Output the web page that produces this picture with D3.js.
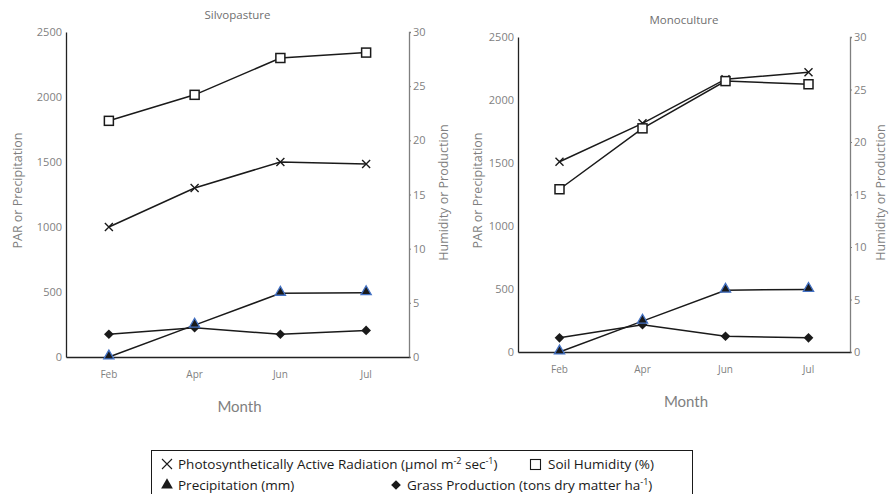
<!DOCTYPE html>
<html>
<head>
<meta charset="utf-8">
<script src="https://cdn.jsdelivr.net/npm/d3@7"></script>
<style>
  body { margin: 0; background: #fff; }
  svg { font-family: "Open Sans", Lato, sans-serif; }
</style>
</head>
<body>
<svg id="chart" width="889" height="494"></svg>
<script>
// months on the x axis
var months = ["Feb", "Apr", "Jun", "Jul"];
var leftTicks = [0, 500, 1000, 1500, 2000, 2500];
var rightTicks = [0, 5, 10, 15, 20, 25, 30];

// silvopasture
var silvoPAR = [1000, 1300, 1500, 1485];
var silvoHumidity = [21.8, 24.2, 27.6, 28.1];
var silvoPrecip = [0, 245, 490, 495];
var silvoGrass = [2.1, 2.7, 2.1, 2.45];

// monoculture
var monoPAR = [1510, 1815, 2165, 2220];
var monoHumidity = [15.5, 21.3, 25.8, 25.5];
var monoPrecip = [0, 245, 490, 497];
var monoGrass = [1.35, 2.6, 1.5, 1.35];

var svg = d3.select('#chart');
var grey = '#7f7f7f';
var font = '"Open Sans", sans-serif';

function drawPanel(p) {
  var x = d3.scaleBand().domain(months).range([p.x0, p.x1]);
  var yL = d3.scaleLinear().domain([0, 2500]).range([p.y1, p.y0]);
  var yR = d3.scaleLinear().domain([0, 30]).range([p.y1, p.y0]);
  var cx = function(d, i) { return x(months[i]) + x.bandwidth() / 2; };
  var g = svg.append('g');

  // title
  g.append('text').attr('x', (p.x0 + p.x1) / 2).attr('y', p.y0 - 13)
    .attr('text-anchor', 'middle').attr('font-size', '11.5px').attr('fill', '#6f6f6f')
    .text(p.title);

  // left axis
  var ax = g.append('g').attr('transform', 'translate(' + p.x0 + ',0)')
    .call(d3.axisLeft(yL).tickValues(leftTicks).tickFormat(d3.format('d')).tickSize(0).tickPadding(4));
  ax.select('.domain').attr('stroke', '#222').attr('stroke-width', 1.3);
  ax.selectAll('text').attr('fill', grey).attr('font-size', '11px').attr('font-family', font);

  // right axis
  var ar = g.append('g').attr('transform', 'translate(' + p.x1 + ',0)')
    .call(d3.axisRight(yR).tickValues(rightTicks).tickSize(2).tickSizeOuter(2).tickPadding(2));
  ar.select('.domain').attr('stroke', grey).attr('stroke-width', 1.3);
  ar.selectAll('line').attr('stroke', grey);
  ar.selectAll('text').attr('fill', grey).attr('font-size', '11px').attr('font-family', font);

  // bottom axis
  var ab = g.append('g').attr('transform', 'translate(0,' + p.y1 + ')')
    .call(d3.axisBottom(x).tickSize(0).tickPadding(14));
  ab.select('.domain').attr('stroke', '#222').attr('stroke-width', 1.3);
  ab.selectAll('text').attr('fill', grey).attr('font-size', '10px').attr('font-family', font);

  // axis titles
  g.append('text').attr('x', (p.x0 + p.x1) / 2 + 2).attr('y', p.y1 + 55)
    .attr('text-anchor', 'middle').attr('font-family', 'Lato, sans-serif')
    .attr('font-size', '15px').attr('fill', grey).text('Month');
  g.append('text').attr('transform', 'translate(' + p.lx + ',' + ((p.y0 + p.y1) / 2 - 4) + ') rotate(-90)')
    .attr('text-anchor', 'middle').attr('font-size', '12.5px').attr('fill', grey).text('PAR or Precipitation');
  g.append('text').attr('transform', 'translate(' + p.rx + ',' + ((p.y0 + p.y1) / 2 - 2) + ') rotate(-90)')
    .attr('text-anchor', 'middle').attr('font-size', '12.5px').attr('fill', grey).text('Humidity or Production');

  function line(vals, y) {
    g.append('path').datum(vals)
      .attr('d', d3.line().x(cx).y(function(d) { return y(d); }))
      .attr('fill', 'none').attr('stroke', '#1a1a1a').attr('stroke-width', 1.5);
  }
  line(p.par, yL);
  line(p.humidity, yR);
  line(p.grass, yR);
  line(p.precip, yL);

  // PAR crosses
  g.append('g').selectAll('path').data(p.par).enter().append('path')
    .attr('d', 'M-4,-4L4,4M-4,4L4,-4')
    .attr('transform', function(d, i) { return 'translate(' + cx(d, i) + ',' + yL(d) + ')'; })
    .attr('stroke', '#1a1a1a').attr('stroke-width', 1.4);
  // humidity squares
  g.append('g').selectAll('rect').data(p.humidity).enter().append('rect')
    .attr('x', function(d, i) { return cx(d, i) - 4.5; })
    .attr('y', function(d) { return yR(d) - 4.5; })
    .attr('width', 9).attr('height', 9)
    .attr('fill', '#fff').attr('stroke', '#1a1a1a').attr('stroke-width', 1.5);
  // grass diamonds
  g.append('g').selectAll('path').data(p.grass).enter().append('path')
    .attr('d', d3.symbol().type(d3.symbolDiamond2).size(60))
    .attr('transform', function(d, i) { return 'translate(' + cx(d, i) + ',' + yR(d) + ')'; })
    .attr('fill', '#1a1a1a');
  // precipitation triangles
  g.append('g').selectAll('path').data(p.precip).enter().append('path')
    .attr('d', d3.symbol().type(d3.symbolTriangle).size(45))
    .attr('transform', function(d, i) { return 'translate(' + cx(d, i) + ',' + (yL(d) - 1) + ')'; })
    .attr('fill', '#1a1a1a').attr('stroke', '#4472c4').attr('stroke-width', 1.3);
}

drawPanel({
  title: 'Silvopasture', x0: 66, x1: 409, y0: 32, y1: 357, lx: 22, rx: 448,
  par: silvoPAR, humidity: silvoHumidity, precip: silvoPrecip, grass: silvoGrass
});
drawPanel({
  title: 'Monoculture', x0: 518, x1: 850, y0: 37, y1: 352, lx: 482, rx: 885,
  par: monoPAR, humidity: monoHumidity, precip: monoPrecip, grass: monoGrass
});

// legend
var lg = svg.append('g');
lg.append('rect').attr('x', 151.5).attr('y', 450.5).attr('width', 541).attr('height', 50)
  .attr('fill', '#fff').attr('stroke', '#1a1a1a').attr('stroke-width', 1);

function legendText(x, y, parts) {
  var t = lg.append('text').attr('x', x).attr('y', y)
    .attr('font-family', font).attr('font-size', '13.5px').attr('fill', '#1a1a1a');
  var raised = false;
  parts.forEach(function(s) {
    if (typeof s === 'string') {
      t.append('tspan').attr('dy', raised ? 5 : 0).text(s);
      raised = false;
    } else {
      t.append('tspan').attr('font-size', '9px').attr('dy', -5).text(s.up);
      raised = true;
    }
  });
}
lg.append('path').attr('d', 'M-5,-5L5,5M-5,5L5,-5').attr('transform', 'translate(167,464)')
  .attr('stroke', '#1a1a1a').attr('stroke-width', 1.1).attr('fill', 'none');
legendText(178, 469, ['Photosynthetically Active Radiation (μmol m', {up: '-2'}, ' sec', {up: '-1'}, ')']);
lg.append('rect').attr('x', 530.5).attr('y', 459.5).attr('width', 10).attr('height', 10)
  .attr('fill', '#fff').attr('stroke', '#1a1a1a').attr('stroke-width', 1.1);
legendText(548, 469, ['Soil Humidity (%)']);
lg.append('path').attr('d', d3.symbol().type(d3.symbolTriangle).size(60)).attr('transform', 'translate(167,485)')
  .attr('fill', '#1a1a1a');
legendText(178, 490, ['Precipitation (mm)']);
lg.append('path').attr('d', d3.symbol().type(d3.symbolDiamond2).size(60)).attr('transform', 'translate(396,485)')
  .attr('fill', '#1a1a1a');
legendText(407, 490, ['Grass Production (tons dry matter ha', {up: '-1'}, ')']);
</script>
</body>
</html>
